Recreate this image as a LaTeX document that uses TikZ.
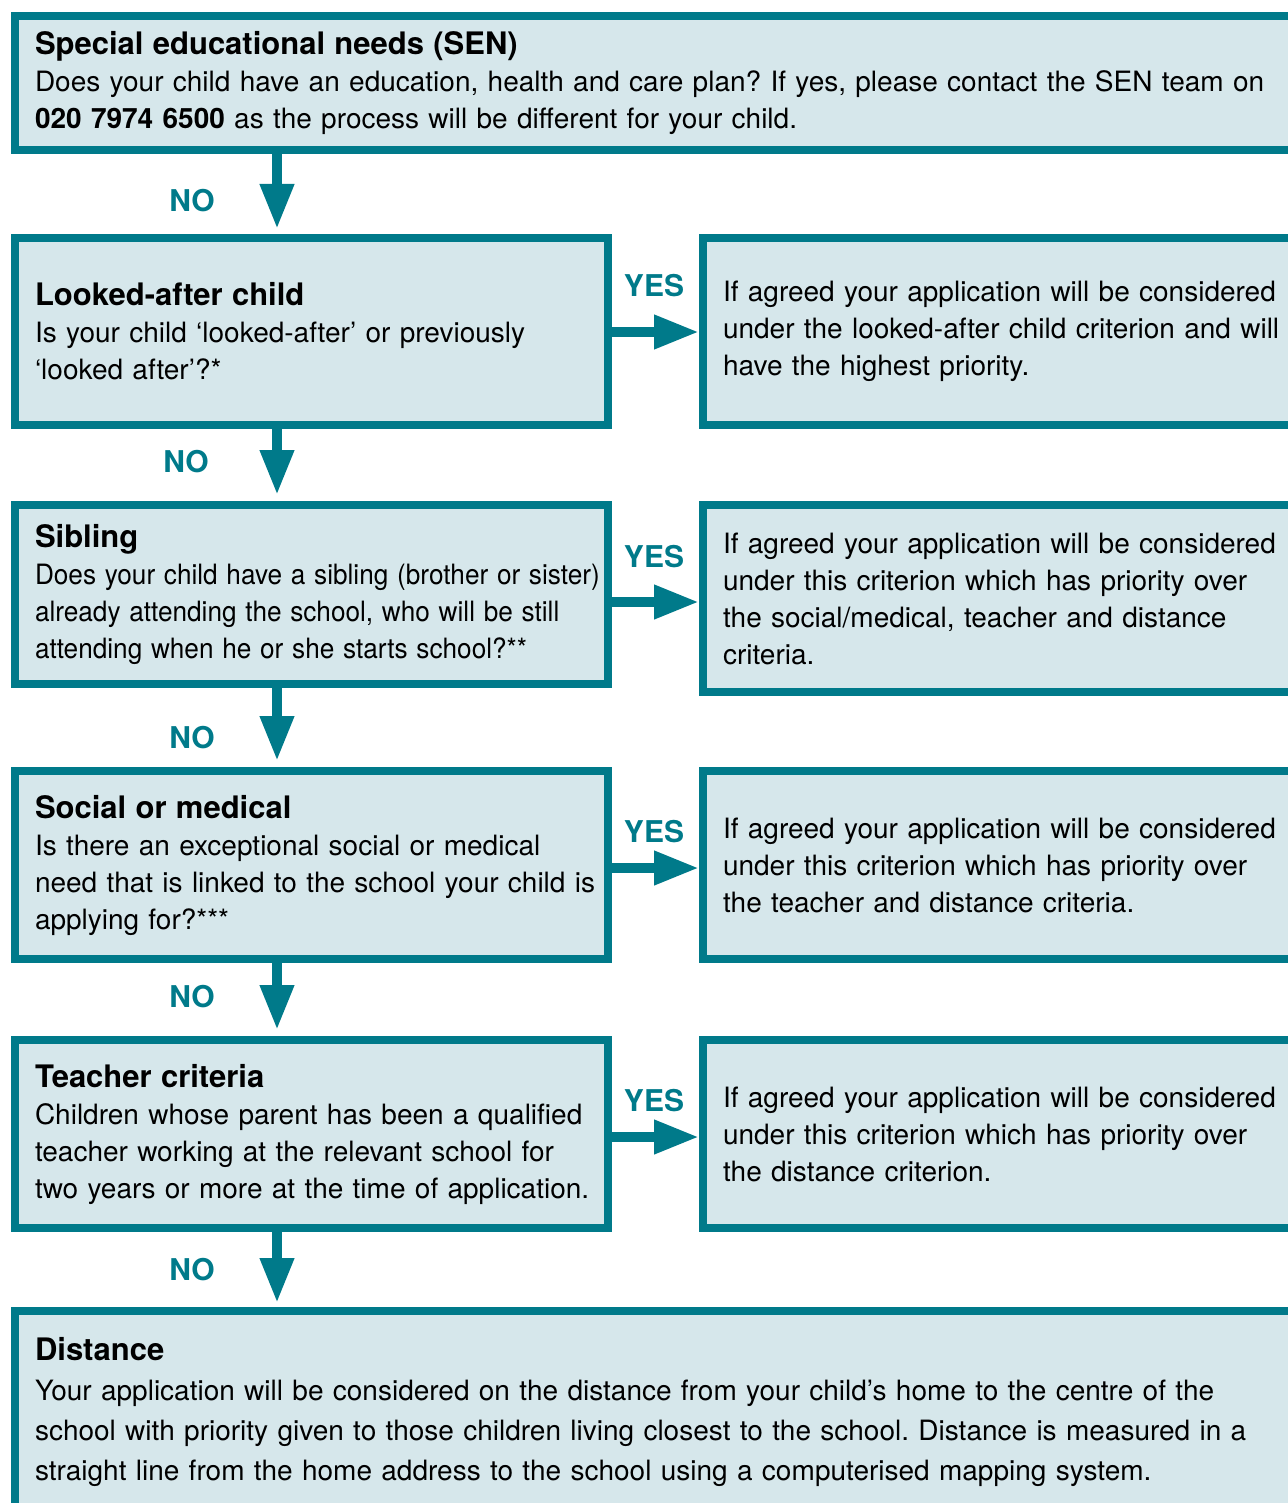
\documentclass[tikz,border=0pt]{standalone}
\usepackage{fontspec}
\setmainfont{TeX Gyre Heros}
\usetikzlibrary{arrows.meta}
\frenchspacing

\definecolor{camteal}{RGB}{0,122,138}
\definecolor{campale}{RGB}{214,231,235}
\newcommand{\boxhead}[1]{{\fontsize{15.5}{18.5}\selectfont\bfseries #1}}
\newcommand{\tightline}[1]{\scalebox{0.935}[1]{#1}}

\begin{document}
\begin{tikzpicture}[x=0.5pt,y=-0.5pt]
\tikzset{every node/.style={font=\fontsize{14}{18.5}\selectfont}}
\tikzset{qbox/.style={draw=camteal,fill=campale,line width=4pt,anchor=north west,align=left,inner xsep=10pt,inner ysep=0pt,text width=#1}}
\tikzset{lbl/.style={text=camteal,inner sep=0pt,font=\fontsize{15}{15}\selectfont\bfseries}}
\tikzset{flow/.style={draw=camteal,line width=5pt,-{Triangle[length=22.5pt,width=16pt]}}}
\useasboundingbox (0,0) rectangle (1288,1503);
\clip (0,0) rectangle (1288,1503);

% questions
\node[qbox=700pt,minimum height=67pt] (sen) at (11,12) {\boxhead{Special educational needs (SEN)}\\
Does your child have an education, health and care plan? If yes, please contact the SEN team on\\
\textbf{020 7974 6500} as the process will be different for your child.};
\node[qbox=276.5pt,minimum height=93.5pt] (lac) at (11,234) {\boxhead{Looked-after child}\\
Is your child ‘looked-after’ or previously\\
‘looked after’?*};
\node[qbox=276.5pt,minimum height=89.5pt] (sib) at (11,501) {\boxhead{Sibling}\\
\tightline{Does your child have a sibling (brother or sister)}\\
\tightline{already attending the school, who will be still}\\
\tightline{attending when he or she starts school?**}};
\node[qbox=276.5pt,minimum height=94pt] (soc) at (11,767) {\boxhead{Social or medical}\\
Is there an exceptional social or medical\\
\mbox{need that is linked to the school your child is}\\
applying for?***};
\node[qbox=276.5pt,minimum height=94pt] (tea) at (11,1036) {\boxhead{Teacher criteria}\\
Children whose parent has been a qualified\\
teacher working at the relevant school for\\
\mbox{two years or more at the time of application.}};
\node[qbox=700pt,minimum height=101pt,font=\fontsize{14}{20}\selectfont] (dis) at (11,1307) {\boxhead{Distance}\\
Your application will be considered on the distance from your child’s home to the centre of the\\
school with priority given to those children living closest to the school. Distance is measured in a\\
straight line from the home address to the school using a computerised mapping system.};

% outcomes
\node[qbox=340pt,minimum height=93.5pt] (lacy) at (699,234) {If agreed your application will be considered\\
under the looked-after child criterion and will\\
have the highest priority.};
\node[qbox=340pt,minimum height=93.5pt] (siby) at (699,501) {If agreed your application will be considered\\
under this criterion which has priority over\\
the social/medical, teacher and distance\\
criteria.};
\node[qbox=340pt,minimum height=94pt] (socy) at (699,767) {If agreed your application will be considered\\
under this criterion which has priority over\\
the teacher and distance criteria.};
\node[qbox=340pt,minimum height=94pt] (teay) at (699,1036) {If agreed your application will be considered\\
under this criterion which has priority over\\
the distance criterion.};

% no arrows
\draw[flow,shorten >=2.5pt] (sen.south -| 277,0) -- (lac.north -| 277,0);
\draw[flow,shorten >=3pt] (lac.south -| 277,0) -- (sib.north -| 277,0);
\draw[flow,shorten >=3pt] (sib.south -| 277,0) -- (soc.north -| 277,0);
\draw[flow,shorten >=3pt] (soc.south -| 277,0) -- (tea.north -| 277,0);
\draw[flow,shorten >=2pt] (tea.south -| 277,0) -- (dis.north -| 277,0);
\node[lbl] (no1) at (192,201) {NO};
\node[lbl] (no2) at (186,462) {NO};
\node[lbl] (no3) at (192,738) {NO};
\node[lbl] (no4) at (192,997) {NO};
\node[lbl] (no5) at (192,1270) {NO};

% yes arrows
\draw[flow] (lac.east |- 0,332) -- (lacy.west |- 0,332);
\draw[flow] (sib.east |- 0,602) -- (siby.west |- 0,602);
\draw[flow] (soc.east |- 0,868) -- (socy.west |- 0,868);
\draw[flow] (tea.east |- 0,1137) -- (teay.west |- 0,1137);
\node[lbl] (yes1) at (654,286) {YES};
\node[lbl] (yes2) at (654,557) {YES};
\node[lbl] (yes3) at (654,832) {YES};
\node[lbl] (yes4) at (654,1101) {YES};
\end{tikzpicture}
\end{document}
